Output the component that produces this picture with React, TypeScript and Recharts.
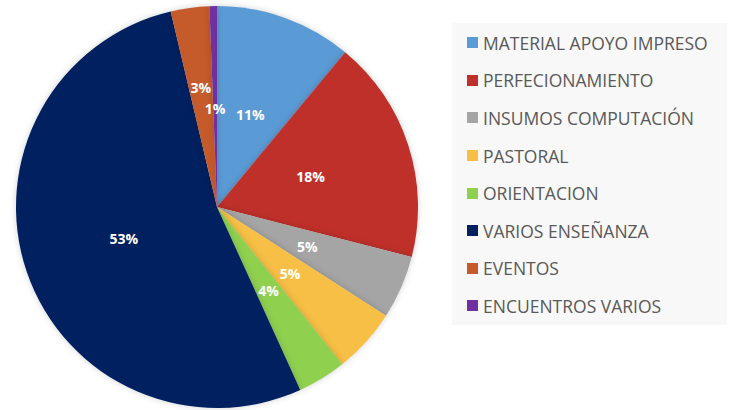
import React from "react";
import { PieChart, Pie, Cell, Legend } from "recharts";

const categories = [
  "MATERIAL APOYO IMPRESO",
  "PERFECIONAMIENTO",
  "INSUMOS COMPUTACIÓN",
  "PASTORAL",
  "ORIENTACION",
  "VARIOS ENSEÑANZA",
  "EVENTOS",
  "ENCUENTROS VARIOS",
];
const values = [11.0, 18.0, 5.1, 5.2, 3.9, 53.1, 3.1, 0.6];
const colors = ["#5b9bd5", "#c0302a", "#a5a5a5", "#f7bf45", "#8fd14f", "#002060", "#c55a2b", "#7030a0"];

const data = categories.map((name, i) => ({ name, value: values[i] }));

const RAD = Math.PI / 180;

const renderLabel = (props: any) => {
  const { cx, cy, midAngle, outerRadius, percent, index } = props;
  const r = outerRadius * (index === 6 ? 0.6 : 0.49);
  const x = cx + r * Math.cos(-midAngle * RAD);
  const y = cy + r * Math.sin(-midAngle * RAD);
  return (
    <text
      x={x}
      y={y}
      fill="#ffffff"
      textAnchor="middle"
      dominantBaseline="central"
      fontFamily="'Open Sans', sans-serif"
      fontWeight={700}
      fontSize={14}
    >
      {`${Math.round(percent * 100)}%`}
    </text>
  );
};

const renderLegend = () => {
  return (
    <div
      style={{
        width: 275,
        height: 302,
        background: "#f8f8f8",
        boxSizing: "border-box",
        paddingTop: 1,
      }}
    >
      {categories.map((name, i) => (
        <div
          key={i}
          style={{
            height: 37.6,
            display: "flex",
            alignItems: "center",
            paddingLeft: 15,
          }}
        >
          <span
            style={{
              display: "inline-block",
              width: 11,
              height: 11,
              background: colors[i],
              marginRight: 5,
            }}
          />
          <span
            style={{
              fontFamily: "'Open Sans', sans-serif",
              fontSize: 17.5,
              color: "#595959",
              whiteSpace: "nowrap",
            }}
          >
            {name}
          </span>
        </div>
      ))}
    </div>
  );
};

export default function App() {
  return (
    <div style={{ position: "fixed", left: 0, top: 0, width: 729, height: 410, background: "#ffffff" }}>
      <style>{`.recharts-pie-sector { filter: drop-shadow(0 0 3px rgba(0,0,0,0.18)); }`}</style>
      <PieChart width={729} height={410} margin={{ top: 0, right: 0, bottom: 0, left: 0 }}>
        <Pie
          data={data}
          dataKey="value"
          nameKey="name"
          cx={217}
          cy={207}
          outerRadius={201}
          startAngle={90}
          endAngle={-270}
          stroke="none"
          labelLine={false}
          label={renderLabel}
          isAnimationActive={false}
        >
          {data.map((_, i) => (
            <Cell key={i} fill={colors[i]} />
          ))}
        </Pie>
        <Legend
          layout="vertical"
          align="right"
          verticalAlign="top"
          content={renderLegend}
          wrapperStyle={{ left: 452, top: 23, width: 275, height: 302 }}
        />
      </PieChart>
    </div>
  );
}
